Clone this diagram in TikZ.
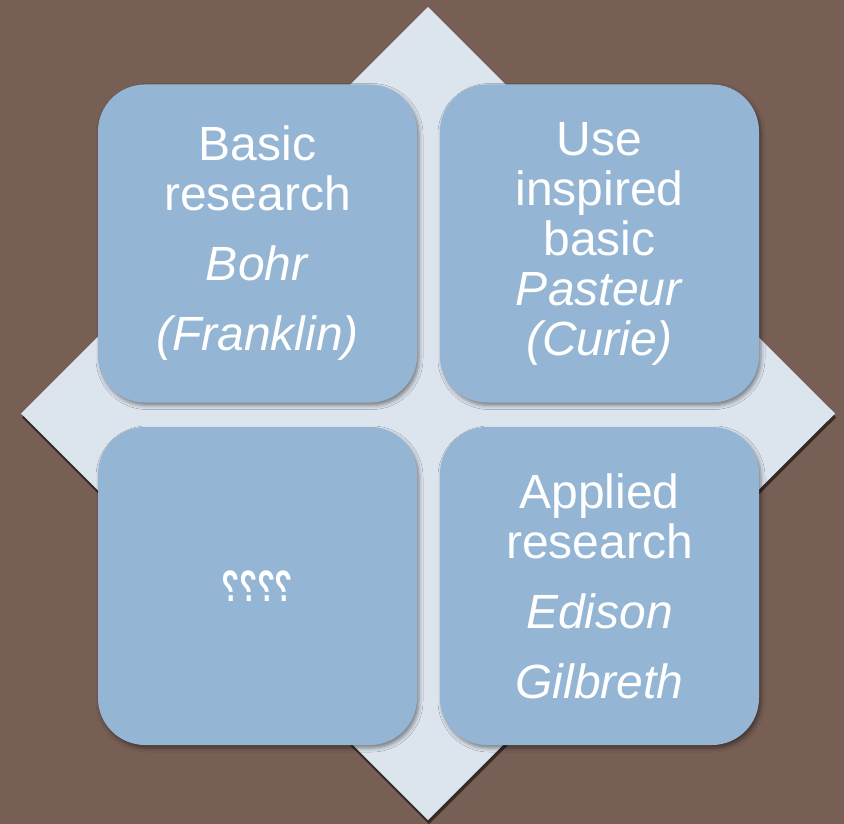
\documentclass[tikz,border=0pt]{standalone}
\usepackage{fontspec}
\usepackage{graphicx}
\setmainfont{Liberation Sans}
\usetikzlibrary{shadows,shadows.blur}
\definecolor{bgc}{HTML}{775F55}
\definecolor{diamc}{HTML}{DCE4EE}
\definecolor{boxc}{HTML}{94B5D3}
\tikzset{
  quad/.style={fill=boxc, draw=none, rounded corners=47pt,
    minimum width=319pt, minimum height=318pt, inner sep=0pt,
    text=white, align=center,
    font=\fontsize{48}{50}\selectfont,
    blur shadow={shadow xshift=2pt, shadow yshift=-3pt, shadow blur radius=4pt, shadow opacity=45}},
}
\begin{document}
\begin{tikzpicture}[x=1pt,y=-1pt]
\useasboundingbox (0,0) rectangle (844,824);
\fill[bgc] (0,0) rectangle (844,824);
\fill[diamc, drop shadow={shadow xshift=1pt, shadow yshift=-4pt, fill=black, opacity=0.55}]
  (428,7) -- (835,413.5) -- (428,820) -- (21,413.5) -- cycle;
\node[quad] (tl) at (257.5,243.5) {Basic\\research\\[20pt]\textit{Bohr}\\[20pt]\textit{(Franklin)}};
\node[quad] (tr) at (599.5,243.5) {Use\\inspired\\basic\\\textit{Pasteur}\\\textit{(Curie)}};
\node[quad] (bl) at (257.5,586) {\fontsize{44}{46}\selectfont\bfseries\reflectbox{\scalebox{0.66}[1]{????}}};
\node[quad] (br) at (599.5,586) {Applied\\research\\[20pt]\textit{Edison}\\[20pt]\textit{Gilbreth}};
\end{tikzpicture}
\end{document}
